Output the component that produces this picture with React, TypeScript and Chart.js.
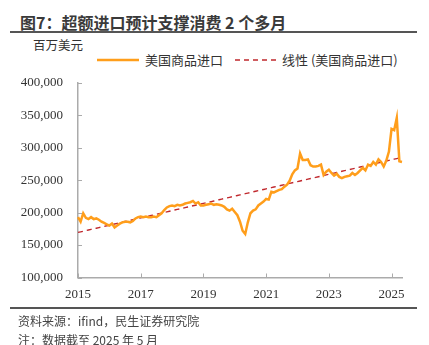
import React, { useEffect, useRef } from "react";
import { Chart, registerables } from "chart.js";

Chart.register(...registerables);

const startYear = 2015;
const tickYears = ["2015", "2017", "2019", "2021", "2023", "2025"];
const yTicks = [100000, 150000, 200000, 250000, 300000, 350000, 400000];

// 美国商品进口（百万美元），月度
const imports2015 = [193000, 186000, 199000, 192000, 190000, 193000, 190000, 191000, 189000, 186000, 184000, 182000];
const imports2016 = [180000, 183000, 177000, 180000, 183000, 185000, 186000, 186000, 185000, 187000, 191000, 193000];
const imports2017 = [194000, 193000, 194000, 193000, 193000, 194000, 193000, 196000, 199000, 204000, 208000, 210000];
const imports2018 = [211000, 210000, 212000, 211000, 212000, 214000, 215000, 216000, 218000, 214000, 216000, 211000];
const imports2019 = [211000, 212000, 213000, 214000, 212000, 213000, 212000, 211000, 209000, 205000, 203000, 206000];
const imports2020 = [201000, 196000, 186000, 172000, 167000, 185000, 199000, 203000, 205000, 211000, 214000, 217000];
const imports2021 = [221000, 220000, 232000, 231000, 233000, 235000, 236000, 240000, 243000, 249000, 259000, 265000];
const imports2022 = [268000, 291000, 281000, 281000, 282000, 273000, 271000, 271000, 272000, 274000, 258000, 263000];
const imports2023 = [266000, 261000, 257000, 260000, 255000, 253000, 255000, 256000, 257000, 261000, 258000, 261000];
const imports2024 = [265000, 269000, 265000, 274000, 272000, 278000, 274000, 282000, 278000, 271000, 280000, 294000];
const imports2025 = [329000, 327000, 346000, 279000, 278000];

const importsSeries = [
  ...imports2015, ...imports2016, ...imports2017, ...imports2018, ...imports2019,
  ...imports2020, ...imports2021, ...imports2022, ...imports2023, ...imports2024, ...imports2025,
];

const monthLabels = importsSeries.map((_, i) => {
  const y = startYear + Math.floor(i / 12);
  const m = (i % 12) + 1;
  return `${y}-${String(m).padStart(2, "0")}`;
});

// Excel-style linear trendline (least squares) of the series
function linearTrend(values: number[]): number[] {
  const n = values.length;
  let sx = 0, sy = 0, sxx = 0, sxy = 0;
  values.forEach((v, i) => {
    sx += i; sy += v; sxx += i * i; sxy += i * v;
  });
  const b = (n * sxy - sx * sy) / (n * sxx - sx * sx);
  const a = (sy - b * sx) / n;
  return values.map((_, i) => a + b * i);
}
const trendSeries = linearTrend(importsSeries);

const ORANGE = "#FF9E1B";
const DARKRED = "#C0282D";
const AXIS = "#ababab";
const SERIF = "'Liberation Serif', 'Times New Roman', serif";
const SANS = "'Noto Sans CJK SC', 'Noto Sans', sans-serif";

// Inward tick marks (Excel style)
const innerTicks = {
  id: "innerTicks",
  afterDraw(chart: any) {
    const { ctx, chartArea, scales } = chart;
    ctx.save();
    ctx.strokeStyle = AXIS;
    ctx.lineWidth = 1;
    scales.y.ticks.forEach((t: any) => {
      const y = Math.round(scales.y.getPixelForValue(t.value)) + 0.5;
      ctx.beginPath();
      ctx.moveTo(chartArea.left, y);
      ctx.lineTo(chartArea.left + 4, y);
      ctx.stroke();
    });
    scales.x.ticks.forEach((t: any) => {
      const x = Math.round(scales.x.getPixelForValue(t.value)) + 0.5;
      ctx.beginPath();
      ctx.moveTo(x, chartArea.bottom);
      ctx.lineTo(x, chartArea.bottom - 4);
      ctx.stroke();
    });
    ctx.restore();
  },
};

export default function App() {
  const ref = useRef<HTMLCanvasElement | null>(null);

  useEffect(() => {
    if (!ref.current) return;
    const chart = new Chart(ref.current, {
      type: "line",
      data: {
        labels: monthLabels,
        datasets: [
          {
            label: "美国商品进口",
            data: importsSeries,
            borderColor: ORANGE,
            borderWidth: 2.5,
            pointRadius: 0,
            tension: 0,
            fill: false,
          },
          {
            label: "线性 (美国商品进口)",
            data: trendSeries,
            borderColor: DARKRED,
            borderWidth: 1.4,
            borderDash: [5, 4],
            pointRadius: 0,
            fill: false,
          },
        ],
      },
      options: {
        animation: false,
        responsive: false,
        maintainAspectRatio: false,
        layout: { padding: { top: 14, right: 27, bottom: 0, left: 0 } },
        plugins: { legend: { display: false }, tooltip: { enabled: false } },
        scales: {
          x: {
            type: "category",
            offset: false,
            afterFit: (s: any) => { s.height = 32.5; },
            afterBuildTicks: (s: any) => {
              s.ticks = tickYears.map((y) => ({ value: (Number(y) - startYear) * 12 }));
            },
            ticks: {
              autoSkip: false,
              maxRotation: 0,
              padding: 9,
              color: "#333",
              font: { family: SERIF, size: 13 },
              callback: (v: any) => String(startYear + Math.floor(Number(v) / 12)),
            },
            grid: { display: true, drawOnChartArea: false, drawTicks: false },
            border: { color: AXIS, width: 1.5 },
          },
          y: {
            min: 100000,
            max: 400000,
            afterFit: (s: any) => { s.width = 78; },
            afterBuildTicks: (s: any) => { s.ticks = yTicks.map((v) => ({ value: v })); },
            ticks: {
              padding: 15,
              color: "#333",
              font: { family: SERIF, size: 13 },
              callback: (v: any) => Number(v).toLocaleString("en-US"),
            },
            grid: { display: true, drawOnChartArea: false, drawTicks: false },
            border: { color: AXIS, width: 1.5 },
          },
        },
      },
      plugins: [innerTicks],
    });
    return () => chart.destroy();
  }, []);

  return (
    <div style={{ position: "fixed", left: 0, top: 0, width: 429, height: 345, background: "#fff", overflow: "hidden", fontFamily: SANS }}>
      <div style={{ position: "absolute", left: 20, top: 11, fontSize: 16, fontWeight: 700, color: "#3a3a3a", lineHeight: "22px", whiteSpace: "nowrap" }}>
        图7：超额进口预计支撑消费 2 个多月
      </div>
      <div style={{ position: "absolute", left: 10, top: 31, width: 407, height: 2, background: "#555" }} />
      <div style={{ position: "absolute", left: 33, top: 37, fontSize: 12.5, color: "#333", lineHeight: "16px" }}>百万美元</div>
      <svg style={{ position: "absolute", left: 0, top: 50 }} width={429} height={20}>
        <line x1={97} y1={10} x2={139} y2={10} stroke={ORANGE} strokeWidth={2.5} />
        <line x1={235} y1={10} x2={276} y2={10} stroke={DARKRED} strokeWidth={1.4} strokeDasharray="5 4" />
      </svg>
      <div style={{ position: "absolute", left: 145, top: 52, fontSize: 13, color: "#333", lineHeight: "16px", whiteSpace: "nowrap" }}>美国商品进口</div>
      <div style={{ position: "absolute", left: 282, top: 52, fontSize: 13, color: "#333", lineHeight: "16px", whiteSpace: "nowrap" }}>线性 (美国商品进口)</div>
      <canvas ref={ref} width={429} height={250} style={{ position: "absolute", left: 0, top: 60, width: 429, height: 250 }} />
      <div style={{ position: "absolute", left: 10, top: 307, width: 407, height: 1.5, background: "#555" }} />
      <div style={{ position: "absolute", left: 18, top: 313, fontSize: 12, color: "#444", lineHeight: "16px", whiteSpace: "nowrap" }}>资料来源：ifind，民生证券研究院</div>
      <div style={{ position: "absolute", left: 18, top: 332, fontSize: 12, color: "#444", lineHeight: "16px", whiteSpace: "nowrap" }}>注：数据截至 2025 年 5 月</div>
    </div>
  );
}
